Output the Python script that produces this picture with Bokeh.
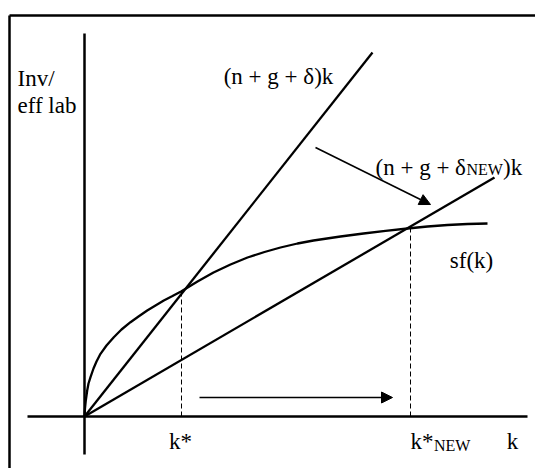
from bokeh.plotting import figure
from bokeh.models import Range1d, Arrow, NormalHead
from bokeh.core.properties import value
from bokeh.embed import file_html
from bokeh.resources import INLINE

# ---- data (diagram units: 1 unit ~ 10 px, origin at the axes crossing) ----
curve_k = [0, 0.05, 0.13, 0.27, 0.4, 0.6, 0.9, 1.2, 1.6, 2.2, 2.93, 3.7, 4.6, 5.4, 6.27,
           7.1, 7.93, 8.8, 9.7, 11.3, 12.9, 14.6, 16.3, 18.0, 19.6, 21.3, 22.9, 25.6,
           27.9, 30.1, 32.3, 34.3, 36.3, 38.3, 40.3]
curve_sf = [0, 0.8, 1.6, 2.6, 3.3, 3.93, 4.8, 5.5, 6.27, 7.1, 7.93, 8.7, 9.43, 10.0, 10.6,
            11.1, 11.6, 12.05, 12.53, 13.5, 14.4, 15.2, 15.9, 16.45, 16.9, 17.3, 17.6, 18.0,
            18.3, 18.57, 18.8, 19.0, 19.15, 19.25, 19.3]
steep_k = [0, 28.8]
steep_y = [0, 36.4]
flat_k = [0, 41.0]
flat_y = [0, 23.9]
kstar = [9.7, 32.6]
kstar_y = [12.55, 18.85]
xaxis_k = [-5.7, 44.3]
yaxis_y = [-3.8, 38.3]
frame_left = -7.5
frame_top = 40.1

arrow_h = dict(x0=11.5, y0=1.9, x1=30.8, y1=1.9)
arrow_d = dict(x0=23.1, y0=26.9, x1=34.6, y1=21.2)

FONT = value("'Liberation Serif', 'Times New Roman', serif")
MAIN = "23px"
SUB = "16px"

p = figure(width=535, height=468, x_range=Range1d(-8.4, 45.1), y_range=Range1d(-5.2, 41.6),
           output_backend="svg", toolbar_location=None, min_border=0,
           x_axis_type=None, y_axis_type=None)
p.grid.visible = False
p.outline_line_color = None
p.background_fill_color = "white"

# frame
p.line([frame_left, frame_left], [-5.2, frame_top], line_color="black", line_width=2.5)
p.line([frame_left, 45.1], [frame_top, frame_top], line_color="black", line_width=2.5)

# axes
p.line(xaxis_k, [0, 0], line_color="black", line_width=2.5)
p.line([0, 0], yaxis_y, line_color="black", line_width=2.5)

# curves
p.line(curve_k, curve_sf, line_color="black", line_width=2.3)
p.line(steep_k, steep_y, line_color="black", line_width=2.3)
p.line(flat_k, flat_y, line_color="black", line_width=2.3)

# dashed drop lines
for kx, ky in zip(kstar, kstar_y):
    p.line([kx, kx], [0, ky], line_color="black", line_width=1, line_dash="5 3")

# arrows
for a in (arrow_h, arrow_d):
    p.add_layout(Arrow(end=NormalHead(size=11, fill_color="black", line_color="black"),
                       x_start=a["x0"], y_start=a["y0"], x_end=a["x1"], y_end=a["y1"],
                       line_color="black", line_width=1.6))

# texts (left aligned)
left_x = [-6.7, -6.7, 29.1, 41.85, 32.6]
left_y = [33.8, 31.1, 24.95, 24.95, -2.5]
left_t = ["Inv/", "eff lab", "(n + g + δ", ")k", "k*"]
p.text(left_x, left_y, text=left_t, text_font=FONT, text_font_size=MAIN,
       text_baseline="alphabetic", text_align="left", text_color="black")

# texts (centred)
mid_x = [19.4, 38.7, 9.6, 42.8]
mid_y = [34.0, 15.6, -2.5, -2.5]
mid_t = ["(n + g + δ)k", "sf(k)", "k*", "k"]
p.text(mid_x, mid_y, text=mid_t, text_font=FONT, text_font_size=MAIN,
       text_baseline="alphabetic", text_align="center", text_color="black")

# subscripts
sub_x = [38.2, 34.95]
sub_y = [24.75, -2.9]
sub_t = ["NEW", "NEW"]
p.text(sub_x, sub_y, text=sub_t, text_font=FONT, text_font_size=SUB,
       text_baseline="alphabetic", text_align="left", text_color="black")

open("out.html", "w").write(file_html(p, INLINE))
